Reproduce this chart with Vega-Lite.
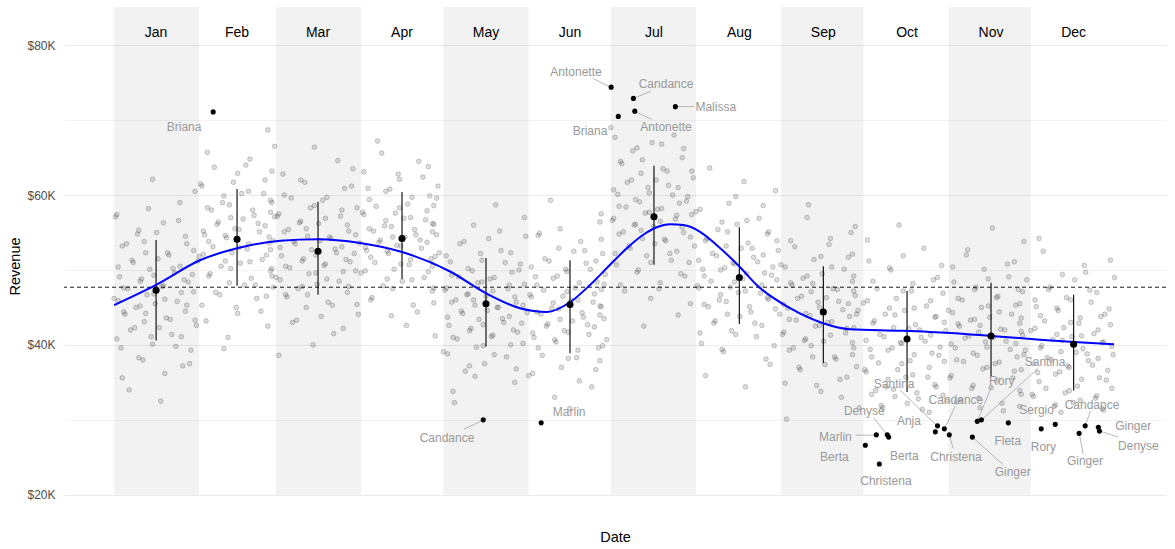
{
"$schema": "https://vega.github.io/schema/vega-lite/v6.json",
"width": 1102, "height": 511,
"autosize": {"type": "none"},
"padding": {"left": 64, "top": 7, "right": 9, "bottom": 31},
"background": "white",
"config": {"view": {"stroke": null}, "font": "Liberation Sans"},
"datasets": {
"months": [
{"m":"Jan","d":15.3,"s":0,"e":31,"r":47300,"lo":40600,"hi":54000,"sh":1},
{"m":"Feb","d":44.8,"s":31,"e":59,"r":54100,"lo":47900,"hi":60800,"sh":0},
{"m":"Mar","d":74.3,"s":59,"e":90,"r":52500,"lo":46700,"hi":59100,"sh":1},
{"m":"Apr","d":104.9,"s":90,"e":120,"r":54200,"lo":48800,"hi":60400,"sh":0},
{"m":"May","d":135.5,"s":120,"e":151,"r":45500,"lo":39800,"hi":51600,"sh":1},
{"m":"Jun","d":166.1,"s":151,"e":181,"r":45400,"lo":38900,"hi":51300,"sh":0},
{"m":"Jul","d":196.7,"s":181,"e":212,"r":57100,"lo":50700,"hi":63900,"sh":1},
{"m":"Aug","d":227.8,"s":212,"e":243,"r":49000,"lo":42800,"hi":55700,"sh":0},
{"m":"Sep","d":258.4,"s":243,"e":273,"r":44400,"lo":37600,"hi":50500,"sh":1},
{"m":"Oct","d":288.9,"s":273,"e":304,"r":40800,"lo":33700,"hi":47200,"sh":0},
{"m":"Nov","d":319.5,"s":304,"e":334,"r":41200,"lo":35700,"hi":48300,"sh":1},
{"m":"Dec","d":349.6,"s":334,"e":365,"r":40100,"lo":33900,"hi":46700,"sh":0}
],
"avg": [{"r":47700}],
"smooth": [
{"d":0,"r":45300},{"d":15.3,"r":48000},{"d":31.3,"r":51300},{"d":44.8,"r":52900},{"d":60.5,"r":53900},{"d":74.3,"r":54100},{"d":89.6,"r":53600},{"d":104.9,"r":52400},{"d":122.4,"r":49800},{"d":135.5,"r":46900},{"d":147.9,"r":44900},{"d":157.7,"r":44400},{"d":166.1,"r":45700},{"d":173.4,"r":48000},{"d":180.7,"r":50700},{"d":186.8,"r":52900},{"d":192.8,"r":54700},{"d":197.7,"r":55700},{"d":202.6,"r":56100},{"d":207.4,"r":56000},{"d":213.5,"r":55100},{"d":219.6,"r":53300},{"d":228,"r":50400},{"d":234.1,"r":48000},{"d":246.3,"r":44900},{"d":258.3,"r":42900},{"d":268.1,"r":42100},{"d":286.3,"r":41900},{"d":304.6,"r":41600},{"d":319.5,"r":41200},{"d":337.3,"r":40700},{"d":349.7,"r":40400},{"d":364.3,"r":40100}
],
"out": [
{"n":"Briana","d":36.1,"r":71100,"ld":25.5,"lr":69100},
{"n":"Antonette","d":181.1,"r":74400,"ld":168.3,"lr":76400},
{"n":"Candance","d":189.2,"r":72900,"ld":201.1,"lr":74800},
{"n":"Antonette","d":189.7,"r":71200,"ld":201.1,"lr":69100},
{"n":"Briana","d":183.7,"r":70500,"ld":173.4,"lr":68500},
{"n":"Malissa","d":204.5,"r":71800,"ld":219.2,"lr":71700},
{"n":"Candance","d":134.5,"r":30000,"ld":121.3,"lr":27600},
{"n":"Marlin","d":155.6,"r":29600,"ld":165.8,"lr":31100},
{"n":"Marlin","d":277.7,"r":28000,"ld":262.8,"lr":27700},
{"n":"Berta","d":273.7,"r":26600,"ld":262.4,"lr":25100},
{"n":"Denyse","d":281.7,"r":28000,"ld":273.3,"lr":31200},
{"n":"Berta","d":282.2,"r":27700,"ld":287.9,"lr":25200},
{"n":"Christena","d":278.8,"r":24100,"ld":281.2,"lr":21900},
{"n":"Santina","d":300,"r":29200,"ld":284.2,"lr":34800},
{"n":"Anja","d":299.2,"r":28400,"ld":289.6,"lr":29900},
{"n":"Candance","d":302.5,"r":28800,"ld":306.7,"lr":32600},
{"n":"Christena","d":304.3,"r":28000,"ld":306.7,"lr":25100},
{"n":"Ginger","d":312.7,"r":27700,"ld":327.4,"lr":23000},
{"n":"Rory","d":314.5,"r":29800,"ld":323.4,"lr":35200},
{"n":"Santina","d":316,"r":30000,"ld":339.2,"lr":37700},
{"n":"Fleta","d":325.8,"r":29600,"ld":325.6,"lr":27200},
{"n":"Rory","d":337.8,"r":28800,"ld":338.6,"lr":26400},
{"n":"Sergio","d":342.9,"r":29400,"ld":336.1,"lr":31300},
{"n":"Candance","d":353.8,"r":29200,"ld":356.3,"lr":32000},
{"n":"Ginger","d":351.6,"r":28200,"ld":353.7,"lr":24500},
{"n":"Ginger","d":358.6,"r":29000,"ld":371.3,"lr":29200},
{"n":"Denyse","d":359,"r":28500,"ld":373.2,"lr":26500}
],
"seg": [
{"d":174.5,"r":75560,"d2":181.1,"r2":74360},
{"d":189.2,"r":72900,"d2":195.6,"r2":73870},
{"d":189.7,"r":71160,"d2":195.9,"r2":70100},
{"d":204.5,"r":71800,"d2":211.3,"r2":71800},
{"d":127.5,"r":28760,"d2":134.5,"r2":29960},
{"d":270.1,"r":27960,"d2":277.7,"r2":27960},
{"d":276.9,"r":30220,"d2":281.7,"r2":27960},
{"d":286.3,"r":34000,"d2":300,"r2":29160},
{"d":306.4,"r":31780,"d2":302.5,"r2":28760},
{"d":304.3,"r":27960,"d2":305.7,"r2":26200},
{"d":312.7,"r":27700,"d2":324,"r2":24000},
{"d":319.7,"r":34440,"d2":314.5,"r2":29830},
{"d":336.7,"r":36900,"d2":316,"r2":29960},
{"d":355.8,"r":31200,"d2":353.8,"r2":29240},
{"d":351.6,"r":28230,"d2":353.1,"r2":25420},
{"d":359,"r":28530,"d2":365.9,"r2":27690}
],
"pts": [
{"d":17,"r":32500},{"d":3,"r":35600},{"d":25,"r":37200},{"d":9,"r":38300},{"d":28,"r":39300},{"d":14,"r":40100},{"d":1,"r":40800},{"d":21,"r":41400},{"d":6,"r":42000},{"d":30,"r":42600},{"d":11,"r":43100},{"d":19,"r":43600},{"d":4,"r":44100},{"d":26,"r":44500},{"d":8,"r":45000},{"d":15,"r":45500},{"d":23,"r":45800},{"d":0,"r":46200},{"d":12,"r":46700},{"d":29,"r":47100},{"d":5,"r":47500},{"d":18,"r":47900},{"d":27,"r":48400},{"d":10,"r":48800},{"d":2,"r":49100},{"d":22,"r":49600},{"d":13,"r":50100},{"d":24,"r":50500},{"d":7,"r":51000},{"d":16,"r":51500},{"d":20,"r":52000},{"d":29,"r":52600},{"d":3,"r":53200},{"d":11,"r":53800},{"d":26,"r":54500},{"d":9,"r":55300},{"d":18,"r":56300},{"d":1,"r":57400},{"d":24,"r":59000},{"d":14,"r":62100},
{"d":5.5,"r":34000},{"d":18.5,"r":36200},{"d":27.5,"r":37500},{"d":10.5,"r":38000},{"d":2.5,"r":39600},{"d":22.5,"r":39800},{"d":13.5,"r":41100},{"d":24.5,"r":41100},{"d":7.5,"r":42300},{"d":16.5,"r":42300},{"d":20.5,"r":43400},{"d":29.5,"r":43300},{"d":3.5,"r":44400},{"d":11.5,"r":44200},{"d":26.5,"r":45300},{"d":9.5,"r":45200},{"d":18.5,"r":46100},{"d":1.5,"r":45900},{"d":24.5,"r":47000},{"d":14.5,"r":46800},{"d":17.5,"r":47800},{"d":3.5,"r":47600},{"d":25.5,"r":48700},{"d":9.5,"r":48500},{"d":28.5,"r":49400},{"d":14.5,"r":49300},{"d":1.5,"r":50400},{"d":21.5,"r":50200},{"d":6.5,"r":51300},{"d":30.5,"r":51200},{"d":11.5,"r":52300},{"d":19.5,"r":52300},{"d":4.5,"r":53500},{"d":26.5,"r":53500},{"d":8.5,"r":54800},{"d":15.5,"r":55000},{"d":23.5,"r":56600},{"d":0.5,"r":57100},{"d":12.5,"r":58200},{"d":29.5,"r":60500},
{"d":40,"r":39500},{"d":56,"r":42500},{"d":45,"r":44200},{"d":32,"r":45300},{"d":52,"r":46200},{"d":37,"r":47000},{"d":58,"r":47700},{"d":42,"r":48300},{"d":50,"r":48900},{"d":35,"r":49500},{"d":57,"r":49900},{"d":39,"r":50500},{"d":46,"r":50900},{"d":54,"r":51400},{"d":31,"r":51800},{"d":43,"r":52300},{"d":57,"r":52700},{"d":36,"r":53100},{"d":49,"r":53500},{"d":58,"r":53900},{"d":41,"r":54300},{"d":33,"r":54700},{"d":53,"r":55100},{"d":44,"r":55500},{"d":55,"r":55900},{"d":38,"r":56400},{"d":47,"r":56800},{"d":51,"r":57300},{"d":57,"r":57700},{"d":34,"r":58300},{"d":42,"r":58700},{"d":57,"r":59300},{"d":40,"r":59900},{"d":49,"r":60500},{"d":32,"r":61200},{"d":55,"r":62000},{"d":45,"r":62900},{"d":48,"r":64000},{"d":34,"r":65700},{"d":56,"r":68700},
{"d":41.5,"r":41000},{"d":33.5,"r":43200},{"d":53.5,"r":44500},{"d":44.5,"r":45000},{"d":55.5,"r":46500},{"d":38.5,"r":46700},{"d":47.5,"r":48000},{"d":51.5,"r":48000},{"d":57.5,"r":49200},{"d":34.5,"r":49200},{"d":42.5,"r":50200},{"d":57.5,"r":50200},{"d":40.5,"r":51200},{"d":49.5,"r":51100},{"d":32.5,"r":52100},{"d":55.5,"r":52000},{"d":45.5,"r":53000},{"d":48.5,"r":52800},{"d":34.5,"r":53800},{"d":56.5,"r":53600},{"d":40.5,"r":54600},{"d":56.5,"r":54400},{"d":45.5,"r":55400},{"d":32.5,"r":55200},{"d":52.5,"r":56200},{"d":37.5,"r":56100},{"d":58.5,"r":57100},{"d":42.5,"r":57000},{"d":50.5,"r":58000},{"d":35.5,"r":58000},{"d":57.5,"r":59000},{"d":39.5,"r":59000},{"d":46.5,"r":60200},{"d":54.5,"r":60200},{"d":31.5,"r":61500},{"d":43.5,"r":61700},{"d":57.5,"r":63200},{"d":36.5,"r":63700},{"d":49.5,"r":64800},{"d":58.5,"r":66500},
{"d":60,"r":38600},{"d":80,"r":41500},{"d":65,"r":43000},{"d":89,"r":44100},{"d":70,"r":45000},{"d":78,"r":45700},{"d":63,"r":46400},{"d":85,"r":47000},{"d":67,"r":47500},{"d":74,"r":48100},{"d":82,"r":48500},{"d":59,"r":49000},{"d":71,"r":49500},{"d":88,"r":49900},{"d":64,"r":50300},{"d":77,"r":50800},{"d":86,"r":51100},{"d":69,"r":51500},{"d":61,"r":51900},{"d":81,"r":52300},{"d":72,"r":52700},{"d":83,"r":53100},{"d":66,"r":53500},{"d":75,"r":53900},{"d":79,"r":54200},{"d":88,"r":54700},{"d":62,"r":55100},{"d":70,"r":55500},{"d":85,"r":56000},{"d":68,"r":56500},{"d":77,"r":56900},{"d":60,"r":57500},{"d":83,"r":58000},{"d":73,"r":58600},{"d":76,"r":59300},{"d":62,"r":60000},{"d":84,"r":60900},{"d":68,"r":62000},{"d":87,"r":63500},{"d":73,"r":66400},
{"d":72.5,"r":40000},{"d":83.5,"r":42200},{"d":66.5,"r":43300},{"d":75.5,"r":43800},{"d":79.5,"r":45300},{"d":88.5,"r":45400},{"d":62.5,"r":46700},{"d":70.5,"r":46700},{"d":85.5,"r":47800},{"d":68.5,"r":47800},{"d":77.5,"r":48800},{"d":60.5,"r":48700},{"d":83.5,"r":49800},{"d":73.5,"r":49600},{"d":76.5,"r":50600},{"d":62.5,"r":50500},{"d":84.5,"r":51400},{"d":68.5,"r":51200},{"d":87.5,"r":52200},{"d":73.5,"r":52000},{"d":60.5,"r":53000},{"d":80.5,"r":52800},{"d":65.5,"r":53800},{"d":89.5,"r":53600},{"d":70.5,"r":54500},{"d":78.5,"r":54400},{"d":63.5,"r":55400},{"d":85.5,"r":55200},{"d":67.5,"r":56300},{"d":74.5,"r":56200},{"d":82.5,"r":57200},{"d":59.5,"r":57200},{"d":71.5,"r":58300},{"d":88.5,"r":58300},{"d":64.5,"r":59600},{"d":77.5,"r":59700},{"d":86.5,"r":61200},{"d":69.5,"r":61700},{"d":61.5,"r":62800},{"d":81.5,"r":64600},
{"d":117,"r":41200},{"d":101,"r":43900},{"d":109,"r":45300},{"d":94,"r":46300},{"d":116,"r":47200},{"d":98,"r":47900},{"d":105,"r":48500},{"d":113,"r":49000},{"d":90,"r":49600},{"d":102,"r":50100},{"d":116,"r":50500},{"d":95,"r":51000},{"d":108,"r":51400},{"d":117,"r":51800},{"d":100,"r":52200},{"d":92,"r":52600},{"d":112,"r":52900},{"d":103,"r":53300},{"d":114,"r":53700},{"d":97,"r":54000},{"d":106,"r":54400},{"d":110,"r":54700},{"d":116,"r":55100},{"d":93,"r":55500},{"d":101,"r":55800},{"d":116,"r":56200},{"d":99,"r":56600},{"d":108,"r":57000},{"d":91,"r":57400},{"d":114,"r":57900},{"d":104,"r":58300},{"d":107,"r":58800},{"d":93,"r":59400},{"d":115,"r":59900},{"d":99,"r":60500},{"d":118,"r":61200},{"d":104,"r":62100},{"d":91,"r":63100},{"d":111,"r":64500},{"d":96,"r":67200},
{"d":106.5,"r":42600},{"d":110.5,"r":44400},{"d":116.5,"r":45600},{"d":93.5,"r":46000},{"d":101.5,"r":47500},{"d":116.5,"r":47600},{"d":99.5,"r":48800},{"d":108.5,"r":48700},{"d":91.5,"r":49900},{"d":114.5,"r":49800},{"d":104.5,"r":50800},{"d":107.5,"r":50700},{"d":93.5,"r":51700},{"d":115.5,"r":51500},{"d":99.5,"r":52500},{"d":118.5,"r":52300},{"d":104.5,"r":53200},{"d":91.5,"r":53000},{"d":111.5,"r":54000},{"d":96.5,"r":53700},{"d":117.5,"r":54700},{"d":101.5,"r":54400},{"d":109.5,"r":55400},{"d":94.5,"r":55200},{"d":116.5,"r":56100},{"d":98.5,"r":55900},{"d":105.5,"r":56900},{"d":113.5,"r":56700},{"d":90.5,"r":57700},{"d":102.5,"r":57600},{"d":116.5,"r":58600},{"d":95.5,"r":58500},{"d":108.5,"r":59700},{"d":117.5,"r":59600},{"d":100.5,"r":60800},{"d":92.5,"r":60900},{"d":112.5,"r":62400},{"d":103.5,"r":62800},{"d":114.5,"r":63800},{"d":97.5,"r":65600},
{"d":124,"r":32300},{"d":146,"r":35000},{"d":128,"r":36500},{"d":135,"r":37500},{"d":143,"r":38400},{"d":120,"r":39100},{"d":132,"r":39700},{"d":149,"r":40200},{"d":125,"r":40800},{"d":138,"r":41300},{"d":147,"r":41700},{"d":130,"r":42200},{"d":122,"r":42600},{"d":142,"r":43000},{"d":133,"r":43400},{"d":144,"r":43800},{"d":127,"r":44200},{"d":136,"r":44600},{"d":140,"r":45000},{"d":149,"r":45300},{"d":123,"r":45700},{"d":131,"r":46000},{"d":146,"r":46400},{"d":129,"r":46800},{"d":138,"r":47200},{"d":121,"r":47600},{"d":144,"r":48000},{"d":134,"r":48400},{"d":137,"r":48800},{"d":123,"r":49300},{"d":145,"r":49700},{"d":129,"r":50200},{"d":148,"r":50800},{"d":134,"r":51300},{"d":121,"r":51900},{"d":141,"r":52600},{"d":126,"r":53500},{"d":150,"r":54500},{"d":131,"r":56000},{"d":139,"r":58700},
{"d":123.5,"r":33800},{"d":131.5,"r":35800},{"d":146.5,"r":36800},{"d":129.5,"r":37200},{"d":138.5,"r":38700},{"d":121.5,"r":38800},{"d":144.5,"r":40000},{"d":134.5,"r":39900},{"d":137.5,"r":41100},{"d":123.5,"r":41000},{"d":145.5,"r":42000},{"d":129.5,"r":41900},{"d":148.5,"r":42900},{"d":134.5,"r":42700},{"d":121.5,"r":43700},{"d":141.5,"r":43500},{"d":126.5,"r":44500},{"d":150.5,"r":44300},{"d":131.5,"r":45300},{"d":139.5,"r":45000},{"d":124.5,"r":46000},{"d":146.5,"r":45700},{"d":128.5,"r":46700},{"d":135.5,"r":46500},{"d":143.5,"r":47500},{"d":120.5,"r":47300},{"d":132.5,"r":48300},{"d":149.5,"r":48100},{"d":125.5,"r":49100},{"d":138.5,"r":49000},{"d":147.5,"r":50000},{"d":130.5,"r":49900},{"d":122.5,"r":51100},{"d":142.5,"r":51000},{"d":133.5,"r":52200},{"d":144.5,"r":52300},{"d":127.5,"r":53800},{"d":136.5,"r":54200},{"d":140.5,"r":55200},{"d":149.5,"r":57000},
{"d":166,"r":31500},{"d":174,"r":34400},{"d":151,"r":35900},{"d":163,"r":37000},{"d":177,"r":37900},{"d":156,"r":38600},{"d":169,"r":39300},{"d":178,"r":39900},{"d":161,"r":40400},{"d":153,"r":41000},{"d":173,"r":41400},{"d":164,"r":41900},{"d":175,"r":42400},{"d":158,"r":42800},{"d":167,"r":43200},{"d":171,"r":43700},{"d":177,"r":44000},{"d":154,"r":44400},{"d":162,"r":44800},{"d":177,"r":45200},{"d":160,"r":45600},{"d":169,"r":46000},{"d":152,"r":46400},{"d":175,"r":46800},{"d":165,"r":47100},{"d":168,"r":47600},{"d":154,"r":48000},{"d":176,"r":48400},{"d":160,"r":48900},{"d":179,"r":49400},{"d":165,"r":49800},{"d":152,"r":50400},{"d":172,"r":50900},{"d":157,"r":51500},{"d":178,"r":52200},{"d":162,"r":52900},{"d":170,"r":53800},{"d":155,"r":54900},{"d":177,"r":56400},{"d":159,"r":59300},
{"d":160.5,"r":33000},{"d":169.5,"r":35200},{"d":152.5,"r":36200},{"d":175.5,"r":36700},{"d":165.5,"r":38200},{"d":168.5,"r":38300},{"d":154.5,"r":39600},{"d":176.5,"r":39600},{"d":160.5,"r":40700},{"d":179.5,"r":40700},{"d":165.5,"r":41700},{"d":152.5,"r":41600},{"d":172.5,"r":42700},{"d":157.5,"r":42500},{"d":178.5,"r":43500},{"d":162.5,"r":43400},{"d":170.5,"r":44300},{"d":155.5,"r":44100},{"d":177.5,"r":45100},{"d":159.5,"r":44900},{"d":166.5,"r":45900},{"d":174.5,"r":45700},{"d":151.5,"r":46700},{"d":163.5,"r":46500},{"d":177.5,"r":47400},{"d":156.5,"r":47300},{"d":169.5,"r":48300},{"d":178.5,"r":48100},{"d":161.5,"r":49200},{"d":153.5,"r":49100},{"d":173.5,"r":50100},{"d":164.5,"r":50100},{"d":175.5,"r":51200},{"d":158.5,"r":51200},{"d":167.5,"r":52500},{"d":171.5,"r":52600},{"d":177.5,"r":54100},{"d":154.5,"r":54600},{"d":162.5,"r":55500},{"d":177.5,"r":57500},
{"d":193,"r":42500},{"d":210,"r":45500},{"d":186,"r":47200},{"d":199,"r":48300},{"d":208,"r":49200},{"d":191,"r":50000},{"d":183,"r":50700},{"d":203,"r":51300},{"d":194,"r":51900},{"d":205,"r":52500},{"d":188,"r":52900},{"d":197,"r":53500},{"d":201,"r":53900},{"d":210,"r":54400},{"d":184,"r":54800},{"d":192,"r":55300},{"d":207,"r":55700},{"d":190,"r":56100},{"d":199,"r":56500},{"d":182,"r":56900},{"d":205,"r":57300},{"d":195,"r":57700},{"d":198,"r":58100},{"d":184,"r":58500},{"d":206,"r":58900},{"d":190,"r":59400},{"d":209,"r":59800},{"d":195,"r":60300},{"d":182,"r":60700},{"d":202,"r":61300},{"d":187,"r":61700},{"d":211,"r":62300},{"d":192,"r":62900},{"d":200,"r":63500},{"d":185,"r":64200},{"d":207,"r":65000},{"d":189,"r":65900},{"d":196,"r":67000},{"d":204,"r":68000},{"d":181,"r":69000},
{"d":205.5,"r":44000},{"d":195.5,"r":46200},{"d":198.5,"r":47500},{"d":184.5,"r":48000},{"d":206.5,"r":49500},{"d":190.5,"r":49700},{"d":209.5,"r":51000},{"d":195.5,"r":51000},{"d":182.5,"r":52200},{"d":202.5,"r":52200},{"d":187.5,"r":53200},{"d":211.5,"r":53200},{"d":192.5,"r":54200},{"d":200.5,"r":54100},{"d":185.5,"r":55100},{"d":207.5,"r":55000},{"d":189.5,"r":56000},{"d":196.5,"r":55800},{"d":204.5,"r":56800},{"d":181.5,"r":56600},{"d":193.5,"r":57600},{"d":210.5,"r":57400},{"d":186.5,"r":58400},{"d":199.5,"r":58200},{"d":208.5,"r":59200},{"d":191.5,"r":59100},{"d":183.5,"r":60100},{"d":203.5,"r":60000},{"d":194.5,"r":61000},{"d":205.5,"r":61000},{"d":188.5,"r":62000},{"d":197.5,"r":62000},{"d":201.5,"r":63200},{"d":210.5,"r":63200},{"d":184.5,"r":64500},{"d":192.5,"r":64700},{"d":207.5,"r":66200},{"d":190.5,"r":66300},{"d":199.5,"r":66800},{"d":182.5,"r":67700},
{"d":230,"r":34400},{"d":239,"r":37400},{"d":222,"r":39100},{"d":214,"r":40200},{"d":234,"r":41100},{"d":225,"r":41900},{"d":236,"r":42600},{"d":219,"r":43200},{"d":228,"r":43800},{"d":232,"r":44400},{"d":241,"r":44800},{"d":215,"r":45400},{"d":223,"r":45800},{"d":238,"r":46300},{"d":221,"r":46700},{"d":230,"r":47200},{"d":213,"r":47600},{"d":236,"r":48000},{"d":226,"r":48400},{"d":229,"r":48800},{"d":215,"r":49200},{"d":237,"r":49600},{"d":221,"r":50000},{"d":240,"r":50400},{"d":226,"r":50800},{"d":213,"r":51300},{"d":233,"r":51700},{"d":218,"r":52200},{"d":242,"r":52600},{"d":223,"r":53200},{"d":231,"r":53600},{"d":216,"r":54200},{"d":238,"r":54800},{"d":220,"r":55400},{"d":227,"r":56100},{"d":235,"r":56900},{"d":212,"r":57800},{"d":224,"r":58900},{"d":241,"r":60600},{"d":217,"r":63600},
{"d":215.5,"r":35900},{"d":237.5,"r":38100},{"d":221.5,"r":39400},{"d":240.5,"r":39900},{"d":226.5,"r":41400},{"d":213.5,"r":41600},{"d":233.5,"r":42900},{"d":218.5,"r":42900},{"d":242.5,"r":44100},{"d":223.5,"r":44100},{"d":231.5,"r":45100},{"d":216.5,"r":45100},{"d":238.5,"r":46100},{"d":220.5,"r":46000},{"d":227.5,"r":47000},{"d":235.5,"r":46900},{"d":212.5,"r":47900},{"d":224.5,"r":47700},{"d":241.5,"r":48700},{"d":217.5,"r":48500},{"d":230.5,"r":49500},{"d":239.5,"r":49300},{"d":222.5,"r":50300},{"d":214.5,"r":50100},{"d":234.5,"r":51100},{"d":225.5,"r":51000},{"d":236.5,"r":52000},{"d":219.5,"r":51900},{"d":228.5,"r":52900},{"d":232.5,"r":52900},{"d":241.5,"r":53900},{"d":215.5,"r":53900},{"d":223.5,"r":55100},{"d":238.5,"r":55100},{"d":221.5,"r":56400},{"d":230.5,"r":56600},{"d":213.5,"r":58100},{"d":236.5,"r":58600},{"d":226.5,"r":59800},{"d":229.5,"r":61800},
{"d":245,"r":30100},{"d":265,"r":33000},{"d":256,"r":34600},{"d":267,"r":35700},{"d":250,"r":36700},{"d":259,"r":37400},{"d":263,"r":38100},{"d":269,"r":38700},{"d":246,"r":39300},{"d":254,"r":39900},{"d":269,"r":40300},{"d":252,"r":40800},{"d":261,"r":41300},{"d":244,"r":41700},{"d":267,"r":42200},{"d":257,"r":42600},{"d":260,"r":43000},{"d":246,"r":43400},{"d":268,"r":43800},{"d":252,"r":44200},{"d":271,"r":44600},{"d":257,"r":45000},{"d":244,"r":45400},{"d":264,"r":45800},{"d":249,"r":46200},{"d":270,"r":46600},{"d":254,"r":47100},{"d":262,"r":47500},{"d":247,"r":48000},{"d":269,"r":48500},{"d":251,"r":48900},{"d":258,"r":49500},{"d":266,"r":50100},{"d":243,"r":50700},{"d":255,"r":51400},{"d":269,"r":52100},{"d":248,"r":53100},{"d":261,"r":54200},{"d":270,"r":55800},{"d":253,"r":58700},
{"d":271.5,"r":31600},{"d":257.5,"r":33800},{"d":244.5,"r":34900},{"d":264.5,"r":35400},{"d":249.5,"r":37000},{"d":270.5,"r":37100},{"d":254.5,"r":38400},{"d":262.5,"r":38400},{"d":247.5,"r":39600},{"d":269.5,"r":39600},{"d":251.5,"r":40600},{"d":258.5,"r":40500},{"d":266.5,"r":41600},{"d":243.5,"r":41400},{"d":255.5,"r":42500},{"d":269.5,"r":42300},{"d":248.5,"r":43300},{"d":261.5,"r":43100},{"d":270.5,"r":44100},{"d":253.5,"r":43900},{"d":245.5,"r":44900},{"d":265.5,"r":44700},{"d":256.5,"r":45700},{"d":267.5,"r":45500},{"d":250.5,"r":46500},{"d":259.5,"r":46300},{"d":263.5,"r":47400},{"d":269.5,"r":47200},{"d":246.5,"r":48300},{"d":254.5,"r":48200},{"d":269.5,"r":49200},{"d":252.5,"r":49200},{"d":261.5,"r":50400},{"d":244.5,"r":50400},{"d":267.5,"r":51700},{"d":257.5,"r":51800},{"d":260.5,"r":53400},{"d":246.5,"r":53900},{"d":268.5,"r":55000},{"d":252.5,"r":57000},
{"d":297,"r":31000},{"d":280,"r":31600},{"d":289,"r":32200},{"d":293,"r":32800},{"d":302,"r":33300},{"d":276,"r":33400},{"d":284,"r":34100},{"d":299,"r":34700},{"d":282,"r":35400},{"d":291,"r":36000},{"d":274,"r":36400},{"d":297,"r":37000},{"d":287,"r":37500},{"d":290,"r":37900},{"d":276,"r":38400},{"d":298,"r":38900},{"d":282,"r":39300},{"d":301,"r":39700},{"d":287,"r":40200},{"d":274,"r":40600},{"d":294,"r":41000},{"d":279,"r":41400},{"d":303,"r":41900},{"d":284,"r":42300},{"d":292,"r":42700},{"d":277,"r":43200},{"d":299,"r":43700},{"d":281,"r":44100},{"d":288,"r":44600},{"d":296,"r":45200},{"d":273,"r":45600},{"d":285,"r":46200},{"d":302,"r":46900},{"d":278,"r":47500},{"d":291,"r":48200},{"d":300,"r":49000},{"d":283,"r":50000},{"d":275,"r":51200},{"d":295,"r":52900},{"d":286,"r":56000},
{"d":294.5,"r":31400},{"d":279.5,"r":31900},{"d":303.5,"r":32500},{"d":284.5,"r":33100},{"d":292.5,"r":33600},{"d":277.5,"r":33900},{"d":299.5,"r":34400},{"d":281.5,"r":34400},{"d":288.5,"r":35700},{"d":296.5,"r":35700},{"d":273.5,"r":36700},{"d":285.5,"r":36700},{"d":302.5,"r":37800},{"d":278.5,"r":37600},{"d":291.5,"r":38700},{"d":300.5,"r":38600},{"d":283.5,"r":39600},{"d":275.5,"r":39400},{"d":295.5,"r":40500},{"d":286.5,"r":40300},{"d":297.5,"r":41300},{"d":280.5,"r":41100},{"d":289.5,"r":42200},{"d":293.5,"r":42000},{"d":302.5,"r":43000},{"d":276.5,"r":42900},{"d":284.5,"r":44000},{"d":299.5,"r":43800},{"d":282.5,"r":44900},{"d":291.5,"r":44900},{"d":274.5,"r":45900},{"d":297.5,"r":45900},{"d":287.5,"r":47200},{"d":290.5,"r":47200},{"d":276.5,"r":48500},{"d":298.5,"r":48700},{"d":282.5,"r":50300},{"d":301.5,"r":50600},{"d":287.5,"r":51900},{"d":274.5,"r":54000},
{"d":324,"r":31200},{"d":330,"r":31800},{"d":307,"r":32400},{"d":315,"r":32900},{"d":330,"r":33900},{"d":313,"r":34600},{"d":322,"r":35300},{"d":305,"r":35900},{"d":328,"r":36500},{"d":318,"r":37000},{"d":321,"r":37500},{"d":307,"r":38000},{"d":329,"r":38400},{"d":313,"r":38900},{"d":332,"r":39300},{"d":318,"r":39700},{"d":305,"r":40100},{"d":325,"r":40500},{"d":310,"r":40900},{"d":331,"r":41300},{"d":315,"r":41700},{"d":323,"r":42100},{"d":308,"r":42500},{"d":330,"r":42900},{"d":312,"r":43300},{"d":319,"r":43700},{"d":327,"r":44100},{"d":304,"r":44600},{"d":316,"r":45000},{"d":330,"r":45500},{"d":309,"r":46000},{"d":322,"r":46500},{"d":331,"r":47100},{"d":314,"r":47700},{"d":306,"r":48400},{"d":326,"r":49100},{"d":317,"r":50100},{"d":328,"r":51100},{"d":311,"r":52700},{"d":320,"r":55600},
{"d":315.5,"r":31600},{"d":323.5,"r":32200},{"d":308.5,"r":32700},{"d":330.5,"r":33400},{"d":312.5,"r":34200},{"d":319.5,"r":34300},{"d":327.5,"r":35600},{"d":304.5,"r":35600},{"d":316.5,"r":36800},{"d":330.5,"r":36700},{"d":309.5,"r":37800},{"d":322.5,"r":37700},{"d":331.5,"r":38700},{"d":314.5,"r":38600},{"d":306.5,"r":39600},{"d":326.5,"r":39400},{"d":317.5,"r":40400},{"d":328.5,"r":40200},{"d":311.5,"r":41200},{"d":320.5,"r":41000},{"d":324.5,"r":42000},{"d":330.5,"r":41800},{"d":307.5,"r":42800},{"d":315.5,"r":42600},{"d":330.5,"r":43600},{"d":313.5,"r":43400},{"d":322.5,"r":44400},{"d":305.5,"r":44300},{"d":328.5,"r":45300},{"d":318.5,"r":45200},{"d":321.5,"r":46300},{"d":307.5,"r":46200},{"d":329.5,"r":47400},{"d":313.5,"r":47400},{"d":332.5,"r":48700},{"d":318.5,"r":48800},{"d":305.5,"r":50400},{"d":325.5,"r":50800},{"d":310.5,"r":52000},{"d":331.5,"r":53800},
{"d":345,"r":31000},{"d":360,"r":31500},{"d":343,"r":32000},{"d":352,"r":32600},{"d":335,"r":33100},{"d":358,"r":33200},{"d":348,"r":33900},{"d":351,"r":34500},{"d":337,"r":35100},{"d":359,"r":35600},{"d":343,"r":36100},{"d":362,"r":36600},{"d":348,"r":37000},{"d":335,"r":37500},{"d":355,"r":37900},{"d":340,"r":38300},{"d":364,"r":38700},{"d":345,"r":39100},{"d":353,"r":39500},{"d":338,"r":39900},{"d":360,"r":40300},{"d":342,"r":40700},{"d":349,"r":41100},{"d":357,"r":41500},{"d":334,"r":41900},{"d":346,"r":42300},{"d":363,"r":42700},{"d":339,"r":43200},{"d":352,"r":43600},{"d":361,"r":44100},{"d":344,"r":44600},{"d":336,"r":45100},{"d":356,"r":45700},{"d":347,"r":46300},{"d":358,"r":47000},{"d":341,"r":47700},{"d":350,"r":48700},{"d":354,"r":49700},{"d":363,"r":51300},{"d":337,"r":54200},
{"d":360.5,"r":31300},{"d":342.5,"r":31800},{"d":349.5,"r":32300},{"d":357.5,"r":32900},{"d":334.5,"r":33400},{"d":346.5,"r":33600},{"d":363.5,"r":34200},{"d":339.5,"r":34200},{"d":352.5,"r":35400},{"d":361.5,"r":35300},{"d":344.5,"r":36400},{"d":336.5,"r":36300},{"d":356.5,"r":37300},{"d":347.5,"r":37200},{"d":358.5,"r":38200},{"d":341.5,"r":38000},{"d":350.5,"r":39000},{"d":354.5,"r":38800},{"d":363.5,"r":39800},{"d":337.5,"r":39600},{"d":345.5,"r":40600},{"d":360.5,"r":40400},{"d":343.5,"r":41400},{"d":352.5,"r":41200},{"d":335.5,"r":42200},{"d":358.5,"r":42000},{"d":348.5,"r":43000},{"d":351.5,"r":42900},{"d":337.5,"r":43900},{"d":359.5,"r":43800},{"d":343.5,"r":44900},{"d":362.5,"r":44800},{"d":348.5,"r":46000},{"d":335.5,"r":46000},{"d":355.5,"r":47300},{"d":340.5,"r":47400},{"d":364.5,"r":49000},{"d":345.5,"r":49400},{"d":353.5,"r":50600},{"d":338.5,"r":52500}
]
},
"layer": [
{
"data": {"name": "months"},
"transform": [{"filter": "datum.sh == 1"}],
"mark": {"type": "rect", "fill": "black", "fillOpacity": 0.05},
"encoding": {
"x": {"field": "s", "type": "quantitative", "title": "Date", "scale": {"domain": [-18.25, 383.25], "nice": false, "zero": false}},
"x2": {"field": "e", "title": "Date"},
"y": {"datum": 20000, "type": "quantitative", "scale": {"domain": [16900, 85100], "nice": false, "zero": false}},
"y2": {"datum": 85100}
}
},
{
"data": {"name": "months"},
"mark": {"type": "text", "fontSize": 14, "color": "black", "baseline": "middle", "align": "center"},
"encoding": {
"x": {"field": "d", "type": "quantitative", "title": "Date"},
"y": {"datum": 81600, "type": "quantitative"},
"text": {"field": "m"}
}
},
{
"data": {"name": "pts"},
"mark": {"type": "circle", "size": 22, "fill": "black", "fillOpacity": 0.13, "stroke": "black", "strokeOpacity": 0.24, "strokeWidth": 0.8},
"encoding": {
"x": {"field": "d", "type": "quantitative", "title": "Date", "scale": {"domain": [-18.25, 383.25], "nice": false, "zero": false},
"axis": {"labels": false, "ticks": false, "domain": false, "grid": false, "titleFontSize": 14.5, "titleFontWeight": "normal", "titleColor": "black", "titleY": 19, "titleBaseline": "middle"}},
"y": {"field": "r", "type": "quantitative", "title": "Revenue", "scale": {"domain": [16900, 85100], "nice": false, "zero": false},
"axis": {"values": [20000, 30000, 40000, 50000, 60000, 70000, 80000], "labelExpr": "datum.value % 20000 == 0 ? '$' + (datum.value / 1000) + 'K' : ''", "ticks": false, "tickSize": 0, "domain": false, "grid": true, "gridColor": "#ebebeb", "gridWidth": {"condition": {"test": "datum.value % 20000 == 0", "value": 1.1}, "value": 0.6}, "labelPadding": 9, "labelFontSize": 12, "labelColor": "#4d4d4d", "titleFontSize": 14.5, "titleFontWeight": "normal", "titleColor": "black", "titleX": -49, "titleY": 259, "titleAngle": 270, "titleBaseline": "middle"}}
}
},
{
"data": {"name": "avg"},
"mark": {"type": "rule", "color": "black", "strokeDash": [4, 3], "strokeWidth": 0.9},
"encoding": {"y": {"field": "r", "type": "quantitative", "title": "Revenue"}}
},
{
"data": {"name": "months"},
"mark": {"type": "rule", "color": "black", "strokeWidth": 1.1},
"encoding": {
"x": {"field": "d", "type": "quantitative", "title": "Date"},
"y": {"field": "lo", "type": "quantitative", "title": "Revenue"},
"y2": {"field": "hi", "title": "Revenue"}
}
},
{
"data": {"name": "smooth"},
"mark": {"type": "line", "color": "#0000ff", "strokeWidth": 2, "interpolate": "monotone"},
"encoding": {
"x": {"field": "d", "type": "quantitative", "title": "Date"},
"y": {"field": "r", "type": "quantitative", "title": "Revenue"}
}
},
{
"data": {"name": "months"},
"mark": {"type": "circle", "size": 50, "color": "black", "opacity": 1},
"encoding": {
"x": {"field": "d", "type": "quantitative", "title": "Date"},
"y": {"field": "r", "type": "quantitative", "title": "Revenue"}
}
},
{
"data": {"name": "seg"},
"mark": {"type": "rule", "color": "#999999", "strokeWidth": 0.7},
"encoding": {
"x": {"field": "d", "type": "quantitative", "title": "Date"},
"x2": {"field": "d2", "title": "Date"},
"y": {"field": "r", "type": "quantitative", "title": "Revenue"},
"y2": {"field": "r2", "title": "Revenue"}
}
},
{
"data": {"name": "out"},
"mark": {"type": "circle", "size": 26, "color": "black", "opacity": 1},
"encoding": {
"x": {"field": "d", "type": "quantitative", "title": "Date"},
"y": {"field": "r", "type": "quantitative", "title": "Revenue"}
}
},
{
"data": {"name": "out"},
"mark": {"type": "text", "fontSize": 12, "color": "#999999", "align": "center", "baseline": "middle"},
"encoding": {
"x": {"field": "ld", "type": "quantitative", "title": "Date"},
"y": {"field": "lr", "type": "quantitative", "title": "Revenue"},
"text": {"field": "n"}
}
}
]
}
